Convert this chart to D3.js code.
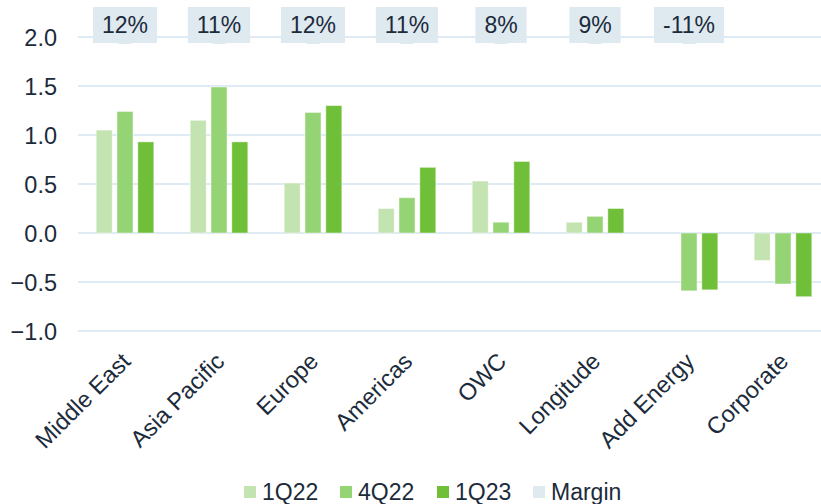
<!DOCTYPE html>
<html><head><meta charset="utf-8">
<script src="https://cdn.jsdelivr.net/npm/d3@7"></script>
<style>
html,body{margin:0;padding:0;background:#fff;}
svg{display:block;font-family:"Liberation Sans",Arial,sans-serif;}
</style></head>
<body>
<svg id="chart" width="821" height="504"></svg>
<script>
const categories = ["Middle East","Asia Pacific","Europe","Americas","OWC","Longitude","Add Energy","Corporate"];
const seriesNames = ["1Q22","4Q22","1Q23"];
const values1Q22 = [1.05, 1.15, 0.51, 0.25, 0.53, 0.11, 0, -0.28];
const values4Q22 = [1.24, 1.49, 1.23, 0.36, 0.11, 0.17, -0.59, -0.52];
const values1Q23 = [0.93, 0.93, 1.30, 0.67, 0.73, 0.25, -0.58, -0.65];
const margins = ["12%","11%","12%","11%","8%","9%","-11%",""];
const yTicks = [2.0, 1.5, 1.0, 0.5, 0.0, -0.5, -1.0];
const colors = ["#c3e4b0","#95d475","#70bf38"];
const marginColor = "#dfe9f0";
const textColor = "#1c2b3b";

const seriesValues = [values1Q22, values4Q22, values1Q23];
const svg = d3.select("#chart");

const y = d3.scaleLinear().domain([-1, 2]).range([331, 37]);
const x0 = d3.scaleBand().domain(categories).range([78, 830]).paddingInner(0.336).paddingOuter(0.168);
const x1 = d3.scaleBand().domain(seriesNames).range([0, x0.bandwidth()]).paddingInner(0.23).paddingOuter(0.115);

// gridlines
svg.append("g").selectAll("line").data(yTicks).join("line")
  .attr("x1", 78).attr("x2", 821)
  .attr("y1", d => y(d)).attr("y2", d => y(d))
  .attr("stroke", "#d3e3f1").attr("stroke-width", 1.5);

// y axis labels
const yAxis = d3.axisLeft(y).tickValues(yTicks).tickFormat(d3.format(".1f")).tickSize(0).tickPadding(0);
const ya = svg.append("g").attr("transform", "translate(57,0)").call(yAxis);
ya.select(".domain").remove();
ya.selectAll("text").attr("fill", textColor).style("font-size", "23.5px")
  .style("font-family", '"Liberation Sans",Arial,sans-serif').attr("dy", "0.35em");

// bars
const rows = categories.map((c, i) => ({c, vals: seriesNames.map((s, j) => ({s, v: seriesValues[j][i], j}))}));
const g = svg.append("g").selectAll("g").data(rows).join("g")
  .attr("transform", d => `translate(${x0(d.c)},0)`);
g.selectAll("rect").data(d => d.vals.filter(e => e.v !== 0)).join("rect")
  .attr("x", d => x1(d.s)).attr("width", x1.bandwidth())
  .attr("y", d => y(Math.max(0, d.v))).attr("height", d => Math.abs(y(d.v) - y(0)))
  .attr("fill", d => colors[d.j]).attr("stroke", "rgba(255,255,255,0.45)").attr("stroke-width", 1);

// margin labels
const mg = svg.append("g").selectAll("g").data(categories.map((c, i) => ({c, m: margins[i]})).filter(d => d.m))
  .join("g").attr("transform", d => `translate(${x0(d.c) + x0.bandwidth() / 2},0)`);
mg.each(function(d) {
  const gg = d3.select(this);
  const t = gg.append("text").attr("text-anchor", "middle").attr("y", 25).attr("dy", "0.35em")
    .attr("fill", textColor).style("font-size", "23px").text(d.m);
  const w = t.node().getComputedTextLength();
  gg.insert("rect", "text").attr("x", -w / 2 - 9).attr("width", w + 18).attr("y", 7).attr("height", 36).attr("fill", marginColor);
  gg.insert("rect", "text").attr("x", -6.5).attr("width", 13).attr("y", 42).attr("height", 2).attr("fill", marginColor);
});

// category labels
svg.append("g").selectAll("text").data(categories).join("text")
  .attr("transform", d => `translate(${x0(d) + x0.bandwidth() / 2 + 1},${357}) rotate(-45)`)
  .attr("text-anchor", "end").attr("dy", "0.35em")
  .attr("fill", textColor).style("font-size", "23.5px").text(d => d);

// legend
const legendItems = [
  {name: "1Q22", color: colors[0]}, {name: "4Q22", color: colors[1]},
  {name: "1Q23", color: colors[2]}, {name: "Margin", color: marginColor}
];
const legendX = [244, 340, 437, 533];
const lg = svg.append("g").selectAll("g").data(legendItems).join("g")
  .attr("transform", (d, i) => `translate(${legendX[i]},0)`);
lg.append("rect").attr("x", 0).attr("y", 486).attr("width", 12).attr("height", 12).attr("fill", d => d.color);
lg.append("text").attr("x", 18).attr("y", 500).attr("fill", textColor).style("font-size", "23px").text(d => d.name);
</script>
</body></html>
